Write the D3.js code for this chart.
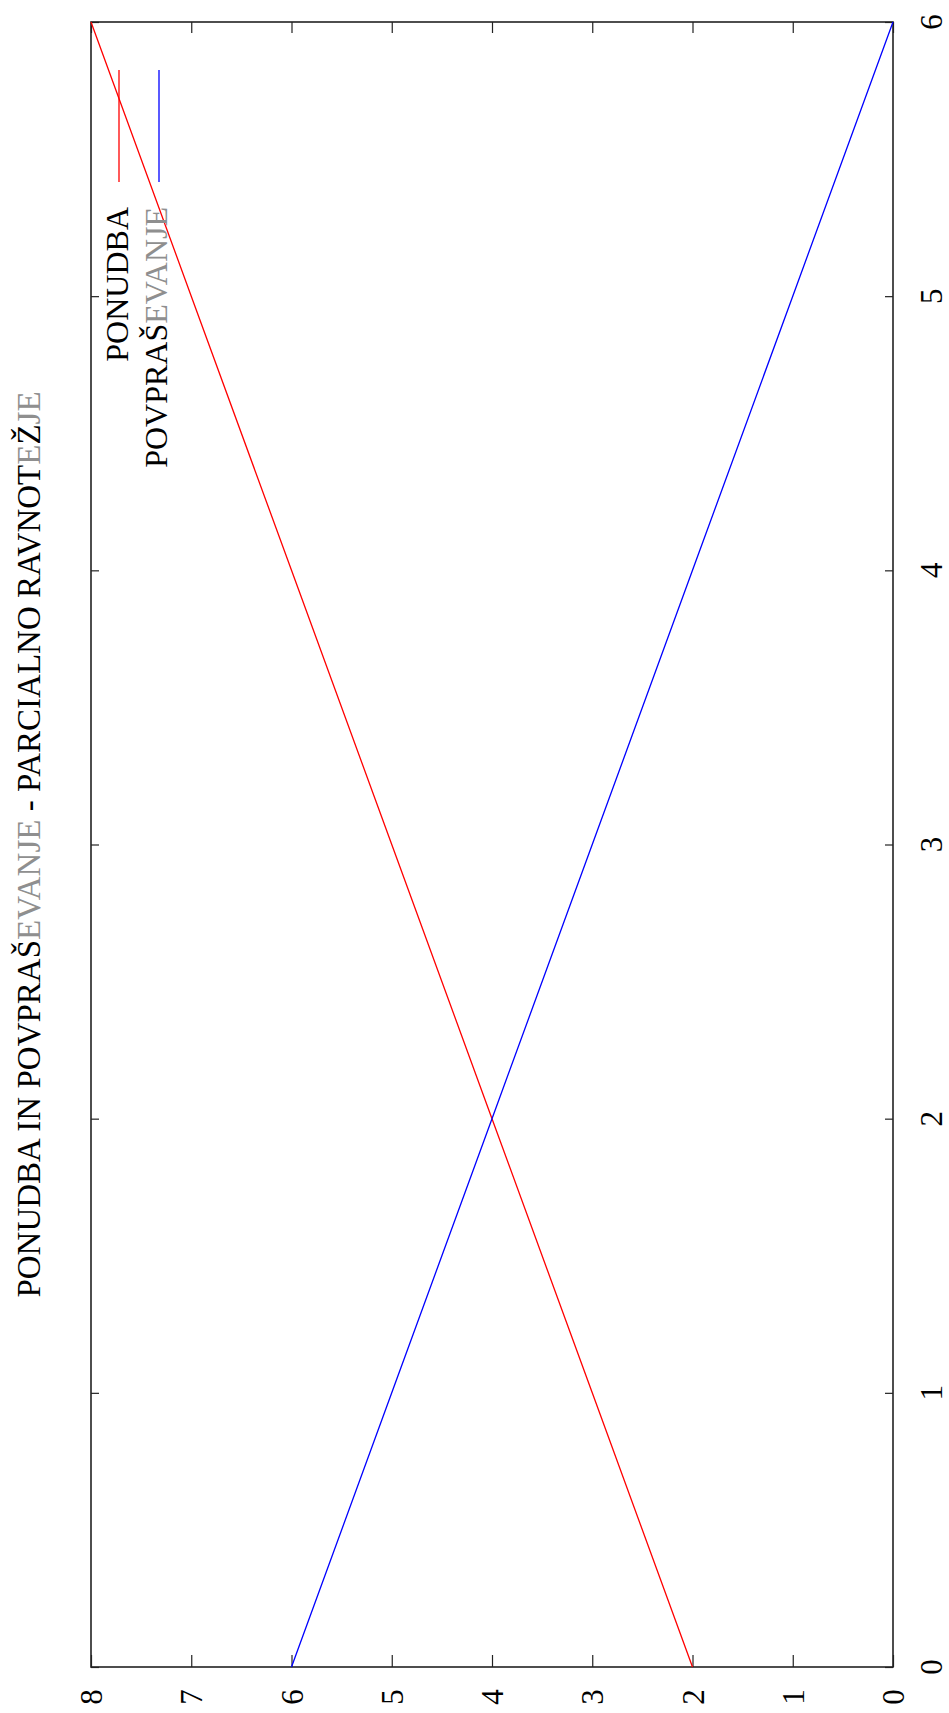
<!DOCTYPE html>
<html>
<head>
<meta charset="utf-8">
<script src="https://cdn.jsdelivr.net/npm/d3@7"></script>
<style>
  html, body { margin: 0; padding: 0; background: #fff; }
  svg { display: block; }
  text { font-family: "Liberation Serif", "DejaVu Serif", serif; }
</style>
</head>
<body>
<script>
// Supply and demand for a single market (partial equilibrium).
const quantity = [0, 1, 2, 3, 4, 5, 6];
const supply   = [2, 3, 4, 5, 6, 7, 8];   // PONUDBA
const demand   = [6, 5, 4, 3, 2, 1, 0];   // POVPRAŠEVANJE

const quantityTicks = [0, 1, 2, 3, 4, 5, 6];
const priceTicks    = [0, 1, 2, 3, 4, 5, 6, 7, 8];

const seriesNames  = ["PONUDBA", "POVPRAŠEVANJE"];
const seriesColors = ["#ff0000", "#0000ff"];

const W = 949, H = 1713;
// The page is laid out in landscape and turned a quarter turn:
// quantity runs up the page, price runs right-to-left.
const frame = { left: 91, right: 893, top: 22, bottom: 1667 };

const svg = d3.select("body").append("svg")
  .attr("width", W).attr("height", H);

const qScale = d3.scaleLinear().domain([0, 6]).range([frame.bottom, frame.top]);
const pScale = d3.scaleLinear().domain([0, 8]).range([frame.right, frame.left]);

const FS = 32;
const GREY = "#8f8f8f";

// Rotated text helper; segments allow part of a string in another tone.
function vtext(x, y, segments, anchor, baseline, size) {
  const t = svg.append("text")
    .attr("transform", `translate(${x},${y}) rotate(-90)`)
    .attr("text-anchor", anchor)
    .attr("font-family", "Liberation Serif")
    .attr("font-size", size || FS)
    .attr("fill", "#000");
  if (baseline) t.attr("dominant-baseline", baseline);
  segments.forEach(([s, c]) => t.append("tspan").attr("fill", c).text(s));
  return t;
}

// Tick marks on all four sides, pointing inward
function ticksOnly(g) { g.select(".domain").remove(); g.selectAll("text").remove();
  g.selectAll("line").attr("stroke", "#222").attr("stroke-width", 1.2); }

svg.append("g").attr("transform", `translate(${frame.right},0)`)
  .call(d3.axisLeft(qScale).tickValues(quantityTicks).tickSize(8).tickSizeOuter(0)).call(ticksOnly);
svg.append("g").attr("transform", `translate(${frame.left},0)`)
  .call(d3.axisRight(qScale).tickValues(quantityTicks).tickSize(8).tickSizeOuter(0)).call(ticksOnly);
svg.append("g").attr("transform", `translate(0,${frame.bottom})`)
  .call(d3.axisTop(pScale).tickValues(priceTicks).tickSize(12).tickSizeOuter(0)).call(ticksOnly);
svg.append("g").attr("transform", `translate(0,${frame.top})`)
  .call(d3.axisBottom(pScale).tickValues(priceTicks).tickSize(11).tickSizeOuter(0)).call(ticksOnly);

// Plot frame
svg.append("rect")
  .attr("x", frame.left).attr("y", frame.top)
  .attr("width", frame.right - frame.left).attr("height", frame.bottom - frame.top)
  .attr("fill", "none").attr("stroke", "#222").attr("stroke-width", 1.6);

// Tick labels
quantityTicks.forEach(v => vtext(931, qScale(v), [[String(v), "#000"]], "middle", "central", 31));
priceTicks.forEach(v => vtext(pScale(v), 1697, [[String(v), "#000"]], "middle", "central", 31));

// Curves
const line = d3.line().x(d => pScale(d.p)).y(d => qScale(d.q));
[supply, demand].forEach((vals, i) => {
  svg.append("path")
    .datum(quantity.map((q, k) => ({ q, p: vals[k] })))
    .attr("d", line)
    .attr("fill", "none")
    .attr("stroke", seriesColors[i])
    .attr("stroke-width", 1.3);
});

// Key
const keyText = [
  [["PONUDBA", "#000"]],
  [["POVPRAŠ", "#000"], ["EVANJE", GREY]]
];
const keyBase = [128, 167];
const keyMid  = [119, 159];
keyText.forEach((segs, i) => {
  vtext(keyBase[i], 207, segs, "end");
  svg.append("line")
    .attr("x1", keyMid[i]).attr("x2", keyMid[i])
    .attr("y1", 182).attr("y2", 70)
    .attr("stroke", seriesColors[i]).attr("stroke-width", 1.3);
});

// Title
vtext(40, (frame.top + frame.bottom) / 2, [
  ["PONUDBA IN POVPRAŠ", "#000"], ["EVANJE", GREY],
  [" - PARCIALNO RAVNOT", "#000"], ["E", GREY], ["Ž", "#000"], ["JE", GREY]
], "middle", null, 33);
</script>
</body>
</html>
